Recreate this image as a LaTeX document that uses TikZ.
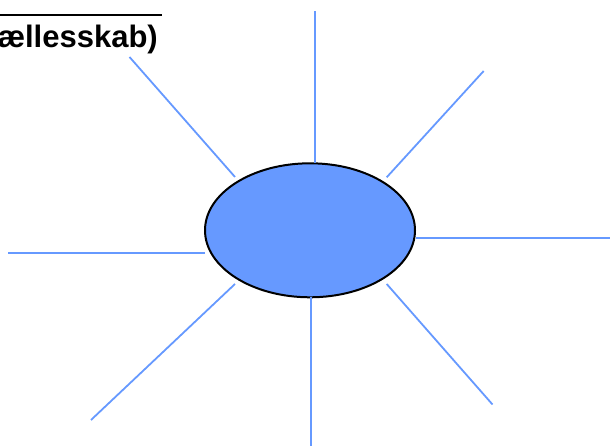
\documentclass[tikz,border=0pt]{standalone}
\usepackage{fontspec}
\setmainfont{Liberation Sans}
\usetikzlibrary{shapes.geometric}
\definecolor{RayBlue}{HTML}{6699FF}
\tikzstyle{HubNode}=[ellipse, draw=black, line width=2pt, fill=RayBlue, minimum width=210pt, minimum height=134pt, inner sep=0pt]
\tikzstyle{RayEdge}=[draw=RayBlue, line width=1.8pt]
\tikzstyle{TitleNode}=[inner sep=0pt, font=\bfseries\fontsize{31}{36}\selectfont]
\tikzstyle{RuleEdge}=[draw=black, line width=2pt]

\begin{document}
\begin{tikzpicture}[x=1pt, y=1pt]
\useasboundingbox (0,0) rectangle (610,446);
\node[HubNode](Hub) at (310,215.7) {};
\node[TitleNode, anchor=base east](Title) at (158,398.3) {ællesskab)};

\coordinate (RuleA) at (0,431);
\coordinate (RuleB) at (162,431);
\draw[RuleEdge](RuleA) -- (RuleB);

\coordinate (Nin) at (315,283);
\coordinate (Nout) at (315,435.3);
\coordinate (NEin) at (386.7,268.7);
\coordinate (NEout) at (483.7,375);
\coordinate (Ein) at (415.5,207.7);
\coordinate (Eout) at (610,207.7);
\coordinate (SEin) at (386.7,162);
\coordinate (SEout) at (492.5,41.5);
\coordinate (Sin) at (310.7,148.7);
\coordinate (Sout) at (310.7,0);
\coordinate (SWin) at (235,162);
\coordinate (SWout) at (91,26);
\coordinate (Win) at (205,192.7);
\coordinate (Wout) at (8,192.7);
\coordinate (NWin) at (235,269);
\coordinate (NWout) at (129.5,389);

\draw[RayEdge](Nin) -- (Nout);
\draw[RayEdge](NEin) -- (NEout);
\draw[RayEdge](Ein) -- (Eout);
\draw[RayEdge](SEin) -- (SEout);
\draw[RayEdge](Sin) -- (Sout);
\draw[RayEdge](SWin) -- (SWout);
\draw[RayEdge](Win) -- (Wout);
\draw[RayEdge](NWin) -- (NWout);
\end{tikzpicture}
\end{document}
